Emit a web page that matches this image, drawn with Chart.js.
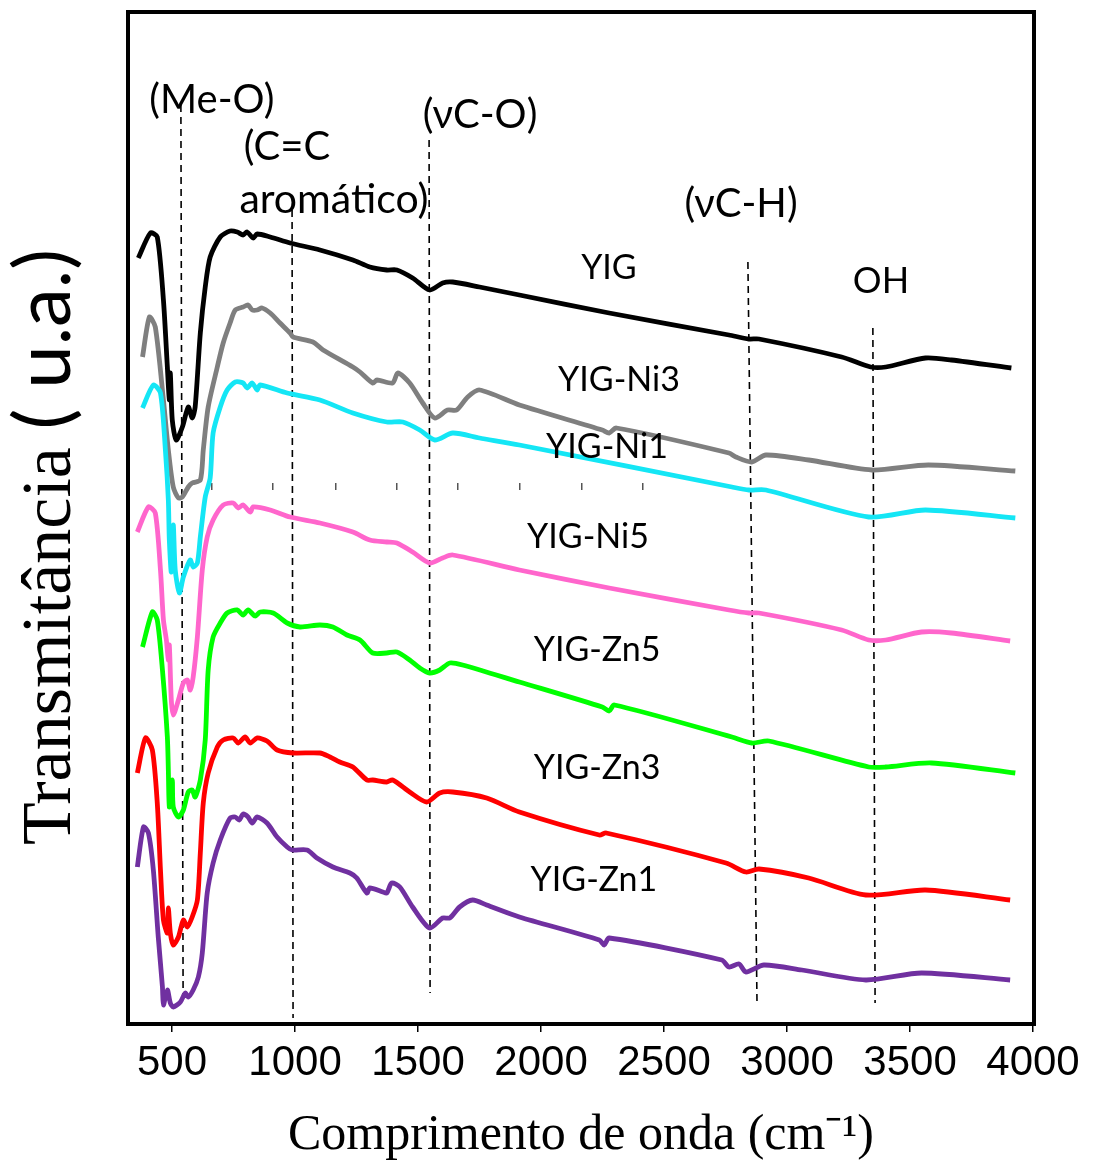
<!DOCTYPE html>
<html lang="pt-br">
<head>
  <meta charset="UTF-8">
  <title>FTIR - YIG dopado com Ni e Zn</title>
  <script src="https://cdn.jsdelivr.net/npm/chart.js"></script>
  <style>
    body {
      margin: 0;
      background: white;
    }

    .grafico {
      width: 1094px;
      height: 1160px;
      position: relative;
    }
  </style>
</head>
<body>
  <div class="grafico">
    <canvas id="ftir"></canvas>
  </div>

  <script>
    // Espectros: [numero de onda (cm-1), transmitancia (u.a., com deslocamento)]
    const YIG = [[363,765],[412,790],[440,786],[465,723],[481,656],[489,623],[493,650],[501,603],[517,583],[542,596],[566,616],[582,605],[594,616],[615,690],[635,736],[655,766],[696,786],[736,792],[765,791],[789,788],[805,791],[830,785],[846,789],[899,786],[980,780],[1101,773],[1235,763],[1304,756],[1373,753],[1414,753],[1478,745],[1547,733],[1600,740],[1641,741],[1750,736],[1912,728],[2277,710],[2764,688],[2845,684],[2886,684],[3222,666],[3340,656],[3401,656],[3563,665],[3668,663],[3912,655]];

    const YIG_Ni3 = [[380,666],[408,706],[432,696],[465,623],[485,573],[505,536],[526,525],[542,526],[566,536],[582,540],[615,543],[627,573],[647,616],[684,656],[708,680],[736,700],[757,713],[789,716],[809,718],[826,713],[846,713],[866,715],[899,710],[939,700],[980,690],[992,686],[1073,681],[1114,673],[1235,656],[1264,651],[1316,640],[1333,643],[1397,640],[1418,650],[1466,640],[1519,620],[1568,605],[1620,613],[1657,613],[1702,626],[1750,633],[1912,618],[2249,593],[2277,590],[2306,595],[2764,570],[2792,566],[2857,561],[2914,568],[3088,563],[3344,553],[3575,558],[3928,552]];

    const YIG_Ni1 = [[380,615],[424,638],[453,630],[473,573],[485,523],[489,483],[497,451],[505,498],[513,453],[530,430],[546,446],[574,463],[586,456],[603,460],[615,486],[635,526],[655,545],[667,590],[696,616],[724,633],[757,641],[789,640],[805,635],[826,640],[846,633],[858,638],[968,630],[1101,623],[1235,610],[1373,601],[1438,601],[1507,593],[1568,583],[1641,590],[1750,585],[1912,578],[2776,536],[2845,533],[2914,533],[3332,506],[3563,513],[3928,505]];

    const YIG_Ni5 = [[359,491],[404,516],[432,510],[453,453],[465,403],[477,383],[485,363],[489,378],[497,323],[505,308],[526,323],[546,340],[562,343],[574,333],[586,346],[603,386],[623,453],[643,486],[667,503],[708,518],[749,520],[769,515],[789,518],[818,511],[830,516],[899,513],[980,506],[1101,500],[1235,491],[1304,483],[1373,481],[1414,480],[1478,471],[1547,460],[1600,465],[1641,468],[1912,453],[2277,435],[2764,413],[2845,410],[2886,410],[3222,393],[3332,383],[3401,383],[3547,391],[3668,390],[3907,382]];

    const YIG_Zn5 = [[380,376],[420,411],[440,403],[461,353],[481,286],[485,253],[489,216],[501,243],[505,216],[526,206],[546,213],[566,231],[582,233],[594,226],[615,243],[635,283],[647,353],[667,386],[696,400],[724,410],[765,413],[789,408],[809,413],[838,407],[858,411],[911,410],[968,400],[1020,396],[1101,398],[1154,396],[1211,388],[1264,383],[1316,370],[1373,370],[1414,371],[1466,363],[1507,355],[1547,350],[1588,353],[1629,360],[1681,358],[1912,341],[2249,316],[2277,312],[2298,318],[2776,286],[2857,280],[2926,282],[3332,256],[3401,256],[3587,260],[3928,250]];

    const YIG_Zn3 = [[359,250],[392,285],[420,273],[440,220],[453,153],[465,103],[481,90],[485,115],[493,90],[505,78],[526,86],[546,103],[562,96],[582,106],[603,123],[615,170],[627,220],[647,250],[684,276],[708,283],[749,285],[769,280],[797,286],[818,280],[846,285],[886,282],[927,273],[992,270],[1101,270],[1142,266],[1182,261],[1235,256],[1292,243],[1316,243],[1373,241],[1397,243],[1466,231],[1535,221],[1588,230],[1641,231],[1779,225],[1912,211],[2237,188],[2265,190],[2752,160],[2833,151],[2886,154],[3088,145],[3320,128],[3563,133],[3907,123]];

    const YIG_Zn1 = [[359,156],[384,196],[404,190],[424,153],[444,86],[461,36],[465,18],[481,33],[493,20],[505,16],[534,21],[554,30],[566,26],[586,33],[607,46],[623,70],[643,130],[667,160],[696,183],[736,205],[757,206],[773,203],[789,209],[809,206],[826,200],[846,206],[886,200],[927,186],[968,176],[988,173],[1049,173],[1089,165],[1154,156],[1223,150],[1251,145],[1292,130],[1304,135],[1357,131],[1373,130],[1393,140],[1426,136],[1478,116],[1547,95],[1600,105],[1629,105],[1669,116],[1722,123],[1779,118],[1912,106],[2237,83],[2257,78],[2277,85],[2735,63],[2764,56],[2805,59],[2833,51],[2906,58],[3060,53],[3320,43],[3547,50],[3907,43]];

    // Linhas tracejadas das bandas: [inicio, fim]
    const bandaMeO = [[536,918],[545,26]];
    const bandaCC = [[988,813],[992,5]];
    const bandaCO = [[1545,883],[1549,30]];
    const bandaCH = [[2841,761],[2878,20]];
    const bandaOH = [[3349,695],[3358,20]];

    const ticksX = [500, 1000, 1500, 2000, 2500, 3000, 3500, 4000];
    // marquinhas soltas que aparecem no meio da figura original
    const ticksSoltos = [662, 910, 1167, 1414, 1663, 1914, 2167, 2415];
    const alturaTicksSoltos = 540;

    const amostras = ['YIG-Zn1', 'YIG-Zn3', 'YIG-Zn5', 'YIG-Ni5', 'YIG-Ni1', 'YIG-Ni3', 'YIG'];
    const espectros = [YIG_Zn1, YIG_Zn3, YIG_Zn5, YIG_Ni5, YIG_Ni1, YIG_Ni3, YIG];
    const cores = ['#7030a0', '#ff0000', '#00ff00', '#ff66cc', '#14e6f5', '#7f7f7f', '#000000'];

    // Textos escritos dentro do grafico (posicao em unidades dos eixos)
    const notas = [
      { texto: '(Me-O)', x: 662, y: 923, tam: 40 },
      { texto: '(C=C', x: 967, y: 876, tam: 40 },
      { texto: 'aromático)', x: 1158, y: 823, tam: 41 },
      { texto: '(\u03bdC-O)', x: 1752, y: 908, tam: 40 },
      { texto: '(\u03bdC-H)', x: 2813, y: 819, tam: 40 },
      { texto: 'OH', x: 3382, y: 742, tam: 36 },
      { texto: 'YIG', x: 2276, y: 755, tam: 34 },
      { texto: 'YIG-Ni3', x: 2317, y: 643, tam: 34 },
      { texto: 'YIG-Ni1', x: 2268, y: 576, tam: 34 },
      { texto: 'YIG-Ni5', x: 2191, y: 486, tam: 34 },
      { texto: 'YIG-Zn5', x: 2228, y: 373, tam: 34 },
      { texto: 'YIG-Zn3', x: 2228, y: 255, tam: 34 },
      { texto: 'YIG-Zn1', x: 2215, y: 143, tam: 34 }
    ];

    const paraXY = arr => arr.map(p => ({ x: p[0], y: p[1] }));

    const datasets = [];
    espectros.forEach((esp, i) => {
      datasets.push({
        label: amostras[i],
        data: paraXY(esp),
        borderColor: cores[i],
        borderWidth: 4.8,
        pointRadius: 0,
        tension: 0.25,
        fill: false
      });
    });

    [bandaMeO, bandaCC, bandaCO, bandaCH, bandaOH].forEach(b => {
      datasets.push({
        label: 'banda',
        data: paraXY(b),
        borderColor: '#000000',
        borderWidth: 1.6,
        borderDash: [7, 5],
        pointRadius: 0,
        tension: 0
      });
    });

    const pluginExtras = {
      id: 'extras',
      beforeDraw(chart) {
        const ctx = chart.ctx;
        ctx.save();
        ctx.fillStyle = 'white';
        ctx.fillRect(0, 0, chart.width, chart.height);
        ctx.restore();
      },
      afterDatasetsDraw(chart) {
        const ctx = chart.ctx;
        const a = chart.chartArea;
        const sx = chart.scales.x;
        const sy = chart.scales.y;
        ctx.save();

        // moldura
        ctx.strokeStyle = '#000';
        ctx.lineWidth = 4;
        ctx.strokeRect(a.left, a.top, a.right - a.left, a.bottom - a.top);

        // textos das bandas e amostras
        ctx.fillStyle = '#000';
        ctx.textAlign = 'center';
        ctx.textBaseline = 'middle';
        notas.forEach(n => {
          ctx.font = n.tam + 'px Lato';
          ctx.fillText(n.texto, sx.getPixelForValue(n.x), sy.getPixelForValue(n.y));
        });

        // titulo do eixo y (duas fontes)
        ctx.translate(70, 845);
        ctx.rotate(-Math.PI / 2);
        ctx.textAlign = 'left';
        ctx.textBaseline = 'alphabetic';
        ctx.font = '70px "Liberation Serif"';
        const parte1 = 'Transmitância ';
        ctx.fillText(parte1, 0, 0);
        const w1 = ctx.measureText(parte1).width;
        ctx.font = '78px Lato';
        ctx.fillText('( u.a.)', w1, 0);
        ctx.restore();
      }
    };

    new Chart(document.getElementById('ftir'), {
      type: 'line',
      data: { datasets: datasets },
      plugins: [pluginExtras],
      options: {
        responsive: true,
        maintainAspectRatio: false,
        animation: false,
        layout: { padding: { top: 12, right: 60, left: 0, bottom: 0 } },
        plugins: {
          legend: { display: false },
          tooltip: { enabled: false }
        },
        scales: {
          x: {
            type: 'linear',
            min: 321,
            max: 4004,
            afterFit: s => { s.height = 136; },
            afterBuildTicks: s => { s.ticks = ticksX.map(v => ({ value: v })); },
            ticks: {
              includeBounds: false,
              padding: 6,
              color: '#000',
              font: { family: '"Liberation Sans"', size: 42 },
              callback: v => String(v)
            },
            grid: {
              drawOnChartArea: false,
              drawTicks: true,
              tickLength: 8,
              color: '#000',
              lineWidth: 1.5
            },
            border: { display: false },
            title: {
              display: true,
              text: 'Comprimento de onda (cm\u207b\u00b9)',
              color: '#000',
              font: { family: '"Liberation Serif"', size: 50 },
              padding: { top: 0, bottom: -6 }
            }
          },
          xSoltos: {
            type: 'linear',
            axis: 'x',
            min: 321,
            max: 4004,
            position: { y: alturaTicksSoltos },
            afterBuildTicks: s => { s.ticks = ticksSoltos.map(v => ({ value: v })); },
            ticks: { display: false },
            grid: {
              drawOnChartArea: false,
              drawTicks: true,
              tickLength: 7,
              color: '#555',
              lineWidth: 1.5
            },
            border: { display: false }
          },
          y: {
            type: 'linear',
            min: -1,
            max: 1011,
            afterFit: s => { s.width = 128; },
            ticks: { display: false },
            grid: { display: false },
            border: { display: false }
          }
        }
      }
    });
  </script>
</body>
</html>
